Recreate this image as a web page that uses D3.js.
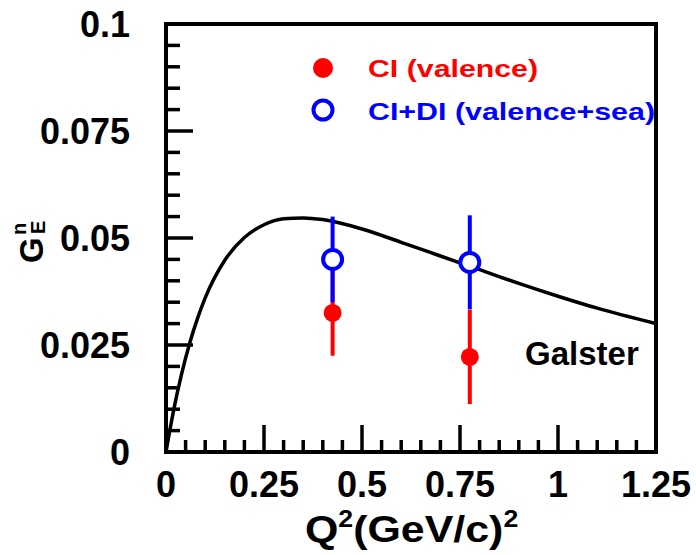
<!DOCTYPE html>
<html><head><meta charset="utf-8">
<script src="https://cdn.jsdelivr.net/npm/d3@7"></script>
<style>body{margin:0;background:#fff}svg{display:block}text{font-family:"Liberation Sans",Arial,sans-serif;font-weight:bold}</style>
</head><body>
<script>
// Data
const xTickLabels = ["0","0.25","0.5","0.75","1","1.25"];
const yTickLabels = ["0","0.025","0.05","0.075","0.1"];
const curveQ2 = [0,0.01,0.02,0.04,0.06,0.08,0.1,0.15,0.2,0.25,0.3,0.35,0.4,0.5,0.6,0.7,0.8,0.9,1.0,1.1,1.25];
const curveG  = [0,0.0052,0.0100,0.0183,0.0253,0.0311,0.0360,0.0448,0.0501,0.0531,0.0545,0.0547,0.0543,0.0521,0.0490,0.0458,0.0426,0.0394,0.0364,0.0336,0.0300];
const ciQ2 = [0.425,0.775];
const ciG = [0.0325,0.0222];
const ciErr = [0.010,0.011];
const cidiQ2 = [0.425,0.775];
const cidiG = [0.045,0.0443];
const cidiErr = [0.010,0.011];

const W=696,H=555;
const svg=d3.select("body").append("svg").attr("width",W).attr("height",H);
const x=d3.scaleLinear().domain([0,1.25]).range([166,656]);
const y=d3.scaleLinear().domain([0,0.1]).range([452,24]);

svg.append("clipPath").attr("id","c").append("rect").attr("x",166).attr("y",24).attr("width",490).attr("height",428);

// minor / major ticks
const yMinor=d3.range(0,0.1001,0.005);
svg.append("g").selectAll("line").data(yMinor).join("line")
 .attr("x1",166).attr("x2",(d,i)=>i%5===0?193:180)
 .attr("y1",d=>y(d)).attr("y2",d=>y(d)).attr("stroke","#000").attr("stroke-width",3.5);
const xMinor=d3.range(0,1.2501,0.05);
svg.append("g").selectAll("line").data(xMinor).join("line")
 .attr("y1",452).attr("y2",(d,i)=>i%5===0?425:440)
 .attr("x1",d=>x(d)).attr("x2",d=>x(d)).attr("stroke","#000").attr("stroke-width",3.5);

// tick labels
svg.append("g").selectAll("text").data(yTickLabels).join("text")
 .attr("x",130).attr("y",(d,i)=>y(i*0.025)).attr("dy","0.36em").attr("text-anchor","end")
 .attr("font-size",36).text(d=>d);
svg.append("g").selectAll("text").data(xTickLabels).join("text")
 .attr("x",(d,i)=>x(i*0.25)).attr("y",497).attr("text-anchor","middle")
 .attr("font-size",36).text(d=>d);

// curve
const line=d3.line().x((d,i)=>x(curveQ2[i])).y(d=>y(d)).curve(d3.curveMonotoneX);
svg.append("path").datum(curveG).attr("d",line).attr("fill","none").attr("stroke","#000").attr("stroke-width",3.5).attr("clip-path","url(#c)");

// CI (red)
const g1=svg.append("g");
g1.selectAll("line").data(ciG).join("line")
 .attr("x1",(d,i)=>x(ciQ2[i])).attr("x2",(d,i)=>x(ciQ2[i]))
 .attr("y1",(d,i)=>y(d+ciErr[i])).attr("y2",(d,i)=>y(d-ciErr[i]))
 .attr("stroke","#ff0000").attr("stroke-width",4);
g1.selectAll("circle").data(ciG).join("circle")
 .attr("cx",(d,i)=>x(ciQ2[i])).attr("cy",d=>y(d)).attr("r",9).attr("fill","#ff0000");
// CI+DI (blue)
const g2=svg.append("g");
g2.selectAll("line").data(cidiG).join("line")
 .attr("x1",(d,i)=>x(cidiQ2[i])).attr("x2",(d,i)=>x(cidiQ2[i]))
 .attr("y1",(d,i)=>y(d+cidiErr[i])).attr("y2",(d,i)=>y(d-cidiErr[i]))
 .attr("stroke","#0000ff").attr("stroke-width",4);
g2.selectAll("circle").data(cidiG).join("circle")
 .attr("cx",(d,i)=>x(cidiQ2[i])).attr("cy",d=>y(d)).attr("r",9.5).attr("fill","#fff").attr("stroke","#0000ff").attr("stroke-width",4);

// frame
svg.append("rect").attr("x",166).attr("y",24).attr("width",490).attr("height",428).attr("fill","none").attr("stroke","#000").attr("stroke-width",4);

// legend
svg.append("circle").attr("cx",323).attr("cy",68).attr("r",10).attr("fill","#ff0000");
svg.append("text").attr("x",368).attr("y",77).attr("font-size",24).attr("fill","#ff0000")
 .attr("textLength",170).attr("lengthAdjust","spacingAndGlyphs").text("CI (valence)");
svg.append("circle").attr("cx",323).attr("cy",110).attr("r",9.5).attr("fill","#fff").attr("stroke","#0000ff").attr("stroke-width",4);
svg.append("text").attr("x",368).attr("y",120).attr("font-size",24).attr("fill","#0000ff")
 .attr("textLength",287).attr("lengthAdjust","spacingAndGlyphs").text("CI+DI (valence+sea)");

// Galster label
svg.append("text").attr("x",525).attr("y",365).attr("font-size",33).text("Galster");

// x title
const xg=svg.append("g").attr("transform","translate(305,542) scale(1.16,1)");
const xt=xg.append("text").attr("x",0).attr("y",0).attr("font-size",37);
xt.append("tspan").text("Q");
xt.append("tspan").attr("font-size",23).attr("dy",-15).text("2");
xt.append("tspan").attr("font-size",37).attr("dy",15).text("(GeV/c)");
xt.append("tspan").attr("font-size",23).attr("dy",-15).text("2");

// y title
const yt=svg.append("g").attr("transform","translate(43,263) rotate(-90)");
yt.append("text").attr("x",0).attr("y",0).attr("font-size",33).text("G");
yt.append("text").attr("x",28).attr("y",-17).attr("font-size",20).text("n");
yt.append("text").attr("x",29).attr("y",2).attr("font-size",20).text("E");
</script>
</body></html>
